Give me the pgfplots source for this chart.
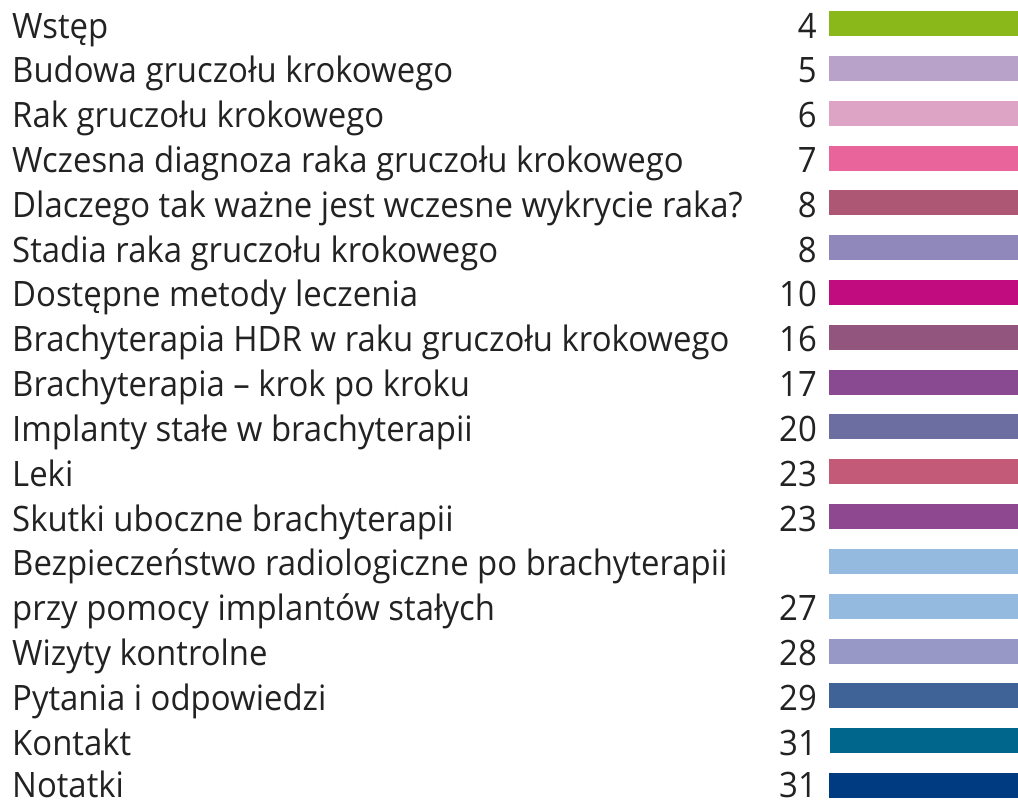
\documentclass[border=0pt]{standalone}
\usepackage{pgfplots}
\pgfplotsset{compat=1.18}
\usepackage{fontspec}
\setmainfont[FakeStretch=0.94]{Open Sans}
\definecolor{txt}{HTML}{222222}
\definecolor{c1}{HTML}{8AB81B}
\definecolor{c2}{HTML}{B9A2CA}
\definecolor{c3}{HTML}{DDA4C6}
\definecolor{c4}{HTML}{E8649A}
\definecolor{c5}{HTML}{AE5775}
\definecolor{c6}{HTML}{9087BA}
\definecolor{c7}{HTML}{C00C7E}
\definecolor{c8}{HTML}{92567E}
\definecolor{c9}{HTML}{8A4A92}
\definecolor{c10}{HTML}{6C6EA2}
\definecolor{c11}{HTML}{C35B78}
\definecolor{c12}{HTML}{8D4890}
\definecolor{c13}{HTML}{94BAE0}
\definecolor{c15}{HTML}{9898C6}
\definecolor{c16}{HTML}{3F6297}
\definecolor{c17}{HTML}{00668C}
\definecolor{c18}{HTML}{003A80}
\begin{document}
\begin{tikzpicture}
\begin{axis}[
  scale only axis, width=1018pt, height=801pt,
  xmin=0, xmax=1018, ymin=0, ymax=801, y dir=reverse,
  hide axis, clip=false,
  every axis plot/.append style={draw=none},
  nodes={font=\fontsize{35}{40}\selectfont, text=txt, inner sep=0pt, text depth=0pt},
]
\path (axis cs:0,0) rectangle (axis cs:1018,801);
\addplot[fill=c1]  coordinates {(829,11.0)(1018,11.0)(1018,36.0)(829,36.0)} -- cycle;
\addplot[fill=c2]  coordinates {(829,55.8)(1018,55.8)(1018,80.8)(829,80.8)} -- cycle;
\addplot[fill=c3]  coordinates {(829,100.6)(1018,100.6)(1018,125.6)(829,125.6)} -- cycle;
\addplot[fill=c4]  coordinates {(829,145.5)(1018,145.5)(1018,170.5)(829,170.5)} -- cycle;
\addplot[fill=c5]  coordinates {(829,190.3)(1018,190.3)(1018,215.3)(829,215.3)} -- cycle;
\addplot[fill=c6]  coordinates {(829,235.1)(1018,235.1)(1018,260.1)(829,260.1)} -- cycle;
\addplot[fill=c7]  coordinates {(829,279.9)(1018,279.9)(1018,304.9)(829,304.9)} -- cycle;
\addplot[fill=c8]  coordinates {(829,324.7)(1018,324.7)(1018,349.7)(829,349.7)} -- cycle;
\addplot[fill=c9]  coordinates {(829,369.6)(1018,369.6)(1018,394.6)(829,394.6)} -- cycle;
\addplot[fill=c10] coordinates {(829,414.4)(1018,414.4)(1018,439.4)(829,439.4)} -- cycle;
\addplot[fill=c11] coordinates {(829,459.2)(1018,459.2)(1018,484.2)(829,484.2)} -- cycle;
\addplot[fill=c12] coordinates {(829,504.0)(1018,504.0)(1018,529.0)(829,529.0)} -- cycle;
\addplot[fill=c13] coordinates {(829,548.8)(1018,548.8)(1018,573.8)(829,573.8)} -- cycle;
\addplot[fill=c13] coordinates {(829,593.7)(1018,593.7)(1018,618.7)(829,618.7)} -- cycle;
\addplot[fill=c15] coordinates {(829,638.5)(1018,638.5)(1018,663.5)(829,663.5)} -- cycle;
\addplot[fill=c16] coordinates {(829,683.3)(1018,683.3)(1018,708.3)(829,708.3)} -- cycle;
\addplot[fill=c17] coordinates {(830,728.1)(1018,728.1)(1018,753.1)(830,753.1)} -- cycle;
\addplot[fill=c18] coordinates {(829,772.9)(1018,772.9)(1018,797.9)(829,797.9)} -- cycle;
\node[anchor=base west] at (axis cs:12,38.0)  {Wstęp};
\node[anchor=base west] at (axis cs:12,82.8)  {Budowa gruczołu krokowego};
\node[anchor=base west] at (axis cs:12,127.6) {Rak gruczołu krokowego};
\node[anchor=base west] at (axis cs:12,172.5) {Wczesna diagnoza raka gruczołu krokowego};
\node[anchor=base west] at (axis cs:12,217.3) {Dlaczego tak ważne jest wczesne wykrycie raka?};
\node[anchor=base west] at (axis cs:12,262.1) {Stadia raka gruczołu krokowego};
\node[anchor=base west] at (axis cs:12,306.9) {Dostępne metody leczenia};
\node[anchor=base west] at (axis cs:12,351.7) {Brachyterapia HDR w raku gruczołu krokowego};
\node[anchor=base west] at (axis cs:12,396.6) {Brachyterapia – krok po kroku};
\node[anchor=base west] at (axis cs:12,441.4) {Implanty stałe w brachyterapii};
\node[anchor=base west] at (axis cs:12,486.2) {Leki};
\node[anchor=base west] at (axis cs:12,531.0) {Skutki uboczne brachyterapii};
\node[anchor=base west] at (axis cs:12,575.8) {Bezpieczeństwo radiologiczne po brachyterapii};
\node[anchor=base west] at (axis cs:12,620.7) {przy pomocy implantów stałych};
\node[anchor=base west] at (axis cs:12,665.5) {Wizyty kontrolne};
\node[anchor=base west] at (axis cs:12,710.3) {Pytania i odpowiedzi};
\node[anchor=base west] at (axis cs:12,755.1) {Kontakt};
\node[anchor=base west] at (axis cs:12,797.5) {Notatki};
\node[anchor=base east] at (axis cs:817,38.0)  {4};
\node[anchor=base east] at (axis cs:817,82.8)  {5};
\node[anchor=base east] at (axis cs:817,127.6) {6};
\node[anchor=base east] at (axis cs:817,172.5) {7};
\node[anchor=base east] at (axis cs:817,217.3) {8};
\node[anchor=base east] at (axis cs:817,262.1) {8};
\node[anchor=base east] at (axis cs:817,306.9) {10};
\node[anchor=base east] at (axis cs:817,351.7) {16};
\node[anchor=base east] at (axis cs:817,396.6) {17};
\node[anchor=base east] at (axis cs:817,441.4) {20};
\node[anchor=base east] at (axis cs:817,486.2) {23};
\node[anchor=base east] at (axis cs:817,531.0) {23};
\node[anchor=base east] at (axis cs:817,620.7) {27};
\node[anchor=base east] at (axis cs:817,665.5) {28};
\node[anchor=base east] at (axis cs:817,710.3) {29};
\node[anchor=base east] at (axis cs:817,755.1) {31};
\node[anchor=base east] at (axis cs:817,797.5) {31};
\end{axis}
\end{tikzpicture}
\end{document}
